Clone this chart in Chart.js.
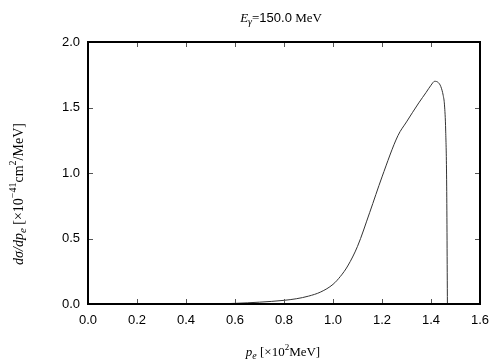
<!DOCTYPE html>
<html>
<head>
<meta charset="utf-8">
<script src="https://cdn.jsdelivr.net/npm/chart.js@4/dist/chart.umd.min.js"></script>
<style>
  html, body { margin: 0; padding: 0; background: #fff; }
  #wrap { width: 504px; height: 360px; }
</style>
</head>
<body>
<div id="wrap"><canvas id="chart1"></canvas></div>
<script>
// electron momentum p_e [x10^2 MeV]
var pe = [0.50, 0.55, 0.60, 0.65, 0.70, 0.75, 0.80, 0.85, 0.90, 0.95, 1.00, 1.03, 1.06, 1.10, 1.15, 1.20,
          1.265, 1.30, 1.35, 1.38, 1.40, 1.415, 1.43, 1.44, 1.45, 1.455, 1.46, 1.464, 1.467];
// dsigma/dp_e [x10^-41 cm^2/MeV]
var dsig = [0.000, 0.002, 0.005, 0.009, 0.014, 0.020, 0.028, 0.040, 0.060, 0.092, 0.150, 0.210, 0.290, 0.440, 0.700, 0.970,
            1.285, 1.390, 1.535, 1.615, 1.670, 1.700, 1.690, 1.660, 1.590, 1.520, 1.320, 0.900, 0.000];
var xTicks = [0, 0.2, 0.4, 0.6, 0.8, 1.0, 1.2, 1.4, 1.6];
var yTicks = [0, 0.5, 1.0, 1.5, 2.0];

var points = pe.map(function (x, i) { return { x: x, y: dsig[i] }; });

var SERIF = '"Liberation Serif", "DejaVu Serif", serif';
var SANS = '"Liberation Sans", Arial, sans-serif';

// draw a run of text pieces with their own fonts and baseline shifts
function drawRich(ctx, parts, x, y, align) {
  var total = 0;
  parts.forEach(function (p) { ctx.font = p.f; total += ctx.measureText(p.t).width; });
  var cx = align === 'center' ? x - total / 2 : x;
  ctx.textAlign = 'left';
  ctx.textBaseline = 'alphabetic';
  parts.forEach(function (p) {
    ctx.font = p.f;
    ctx.fillText(p.t, cx, y + (p.dy || 0));
    cx += ctx.measureText(p.t).width;
  });
}

var frame = {
  id: 'frame',
  afterDraw: function (chart) {
    var ctx = chart.ctx, a = chart.chartArea;
    var xs = chart.scales.x, ys = chart.scales.y;
    ctx.save();
    // inward ticks on all four sides
    ctx.strokeStyle = '#555';
    ctx.lineWidth = 1;
    ctx.beginPath();
    xTicks.forEach(function (v) {
      var px = Math.round(xs.getPixelForValue(v)) + 0.5;
      ctx.moveTo(px, a.bottom); ctx.lineTo(px, a.bottom - 5);
      ctx.moveTo(px, a.top); ctx.lineTo(px, a.top + 5);
    });
    yTicks.forEach(function (v) {
      var py = Math.round(ys.getPixelForValue(v)) + 0.5;
      ctx.moveTo(a.left, py); ctx.lineTo(a.left + 5, py);
      ctx.moveTo(a.right, py); ctx.lineTo(a.right - 5, py);
    });
    ctx.stroke();
    // border
    ctx.strokeStyle = '#000';
    ctx.lineWidth = 2;
    ctx.strokeRect(a.left, a.top, a.right - a.left, a.bottom - a.top);

    ctx.fillStyle = '#000';
    // title
    drawRich(ctx, [
      { t: 'E', f: 'italic 13px ' + SERIF },
      { t: 'γ', f: 'italic 10px ' + SERIF, dy: 3 },
      { t: '=', f: '13px ' + SERIF },
      { t: '150.0', f: '13px ' + SANS },
      { t: ' MeV', f: '13px ' + SERIF }
    ], 281, 22, 'center');
    // x axis label
    drawRich(ctx, [
      { t: 'p', f: 'italic 13px ' + SERIF },
      { t: 'e', f: 'italic 10px ' + SERIF, dy: 3 },
      { t: ' [×10', f: '13px ' + SERIF },
      { t: '2', f: '9px ' + SERIF, dy: -6 },
      { t: 'MeV]', f: '13px ' + SERIF }
    ], 283, 356, 'center');
    // y axis label
    ctx.translate(23, 194);
    ctx.rotate(-Math.PI / 2);
    drawRich(ctx, [
      { t: 'dσ/dp', f: 'italic 14px ' + SERIF },
      { t: 'e', f: 'italic 11px ' + SERIF, dy: 3 },
      { t: ' [×10', f: '14px ' + SERIF },
      { t: '−41', f: '10px ' + SERIF, dy: -7 },
      { t: 'cm', f: '14px ' + SERIF },
      { t: '2', f: '10px ' + SERIF, dy: -7 },
      { t: '/MeV]', f: '14px ' + SERIF }
    ], 0, 0, 'center');
    ctx.restore();
  }
};

const chart1 = new Chart(document.getElementById('chart1'), {
  type: 'scatter',
  data: {
    datasets: [{
      data: points,
      showLine: true,
      borderColor: '#333',
      borderWidth: 1,
      pointRadius: 0,
      cubicInterpolationMode: 'monotone'
    }]
  },
  options: {
    responsive: true,
    maintainAspectRatio: false,
    animation: false,
    layout: { padding: { left: 0, right: 24, top: 42, bottom: 0 } },
    plugins: { legend: { display: false }, tooltip: { enabled: false }, title: { display: false } },
    scales: {
      x: {
        type: 'linear', min: 0, max: 1.6,
        afterBuildTicks: function (s) { s.ticks = xTicks.map(function (v) { return { value: v }; }); },
        afterFit: function (s) { s.height = 56; },
        grid: { display: false, drawTicks: false },
        border: { display: false },
        ticks: {
          padding: 9, color: '#000', maxRotation: 0,
          font: { family: SANS, size: 13 },
          callback: function (v) { return v.toFixed(1); }
        }
      },
      y: {
        type: 'linear', min: 0, max: 2,
        afterBuildTicks: function (s) { s.ticks = yTicks.map(function (v) { return { value: v }; }); },
        afterFit: function (s) { s.width = 88; },
        grid: { display: false, drawTicks: false },
        border: { display: false },
        ticks: {
          padding: 8, color: '#000',
          font: { family: SANS, size: 13 },
          callback: function (v) { return v.toFixed(1); }
        }
      }
    }
  },
  plugins: [frame]
});
</script>
</body>
</html>
